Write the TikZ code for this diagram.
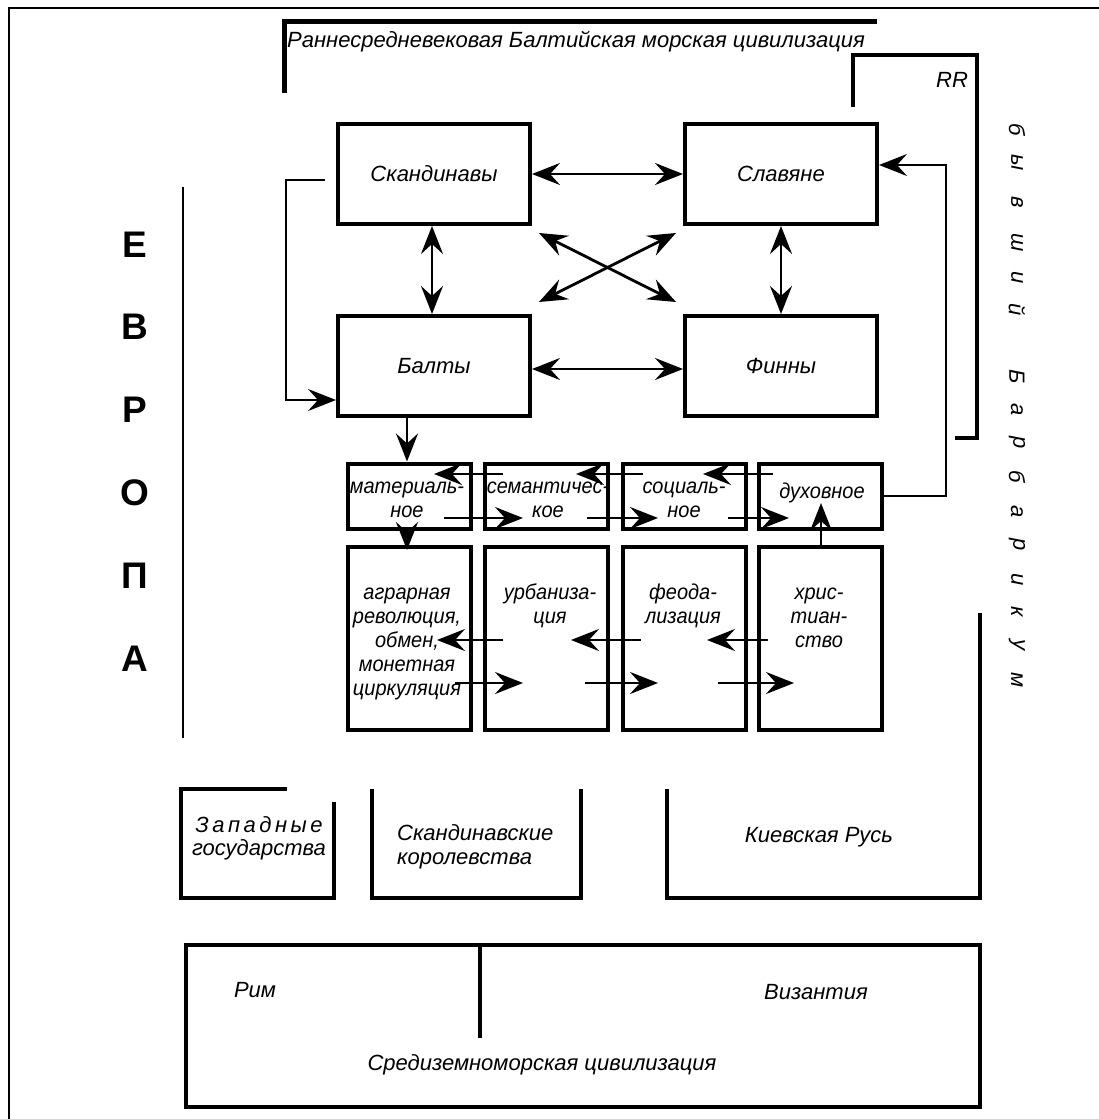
\documentclass[tikz,border=0pt]{standalone}
\usepackage{fontspec}
\setmainfont{Liberation Sans}
\newfontfamily\narrowsans[FakeStretch=0.93]{Liberation Sans}
\usetikzlibrary{arrows.meta,calc}
\begin{document}
\begin{tikzpicture}[x=1pt,y=-1pt,
  lab/.style={font=\fontsize{22}{24}\selectfont\itshape,inner sep=0pt,align=center},
  nlab/.style={font=\narrowsans\fontsize{21.5}{24}\selectfont\itshape,inner sep=0pt,align=center},
  bigbox/.style={draw,line width=4pt,minimum width=192pt,minimum height=100pt,inner sep=0pt,lab},
  smallbox/.style={draw,line width=4pt,minimum width=123pt,minimum height=65pt,inner sep=0pt},
  tallbox/.style={draw,line width=4pt,minimum width=123pt,minimum height=183pt,inner sep=0pt},
  thick4/.style={line width=4pt},
  tip/.tip={Stealth[length=28pt,width=22pt,inset=10pt]},
  arr/.style={line width=2.8pt,-tip},
  thinarr/.style={line width=2pt,-tip},
  darr/.style={line width=2.8pt,tip-tip},
  big/.style={font=\fontsize{37}{37}\selectfont\bfseries,inner sep=0pt}]
\useasboundingbox (0,0) rectangle (1099,1119);
% outer frame
\draw[line width=2pt] (9,1119) -- (9,8) -- (1099,8);
% top bracket
\draw[line width=5pt] (284,93) -- (284,21) -- (877,21);
\node[lab,anchor=west] (title) at (287,42) {Раннесредневековая Балтийская морская цивилизация};
% RR bracket
\draw[thick4] (853,107) -- (853,55) -- (977,55) -- (977,438) -- (955,438);
\node[lab] (rr) at (952,80) {RR};
% vertical text right
\foreach \l/\yy [count=\i] in {б/130,ы/163,в/202,ш/243,и/278,й/310,Б/377,а/410,р/443,б/477,а/512,р/545,и/580,к/612,у/645,м/680}
  \node[lab,rotate=-90] (v\i) at (1017,\yy) {\l};
% EUROPA
\foreach \l/\yy [count=\i] in {Е/245,В/327,Р/410,О/493,П/576,А/659}
  \node[big] (e\i) at (135,\yy) {\l};
\draw[line width=2.5pt] (183,187) -- (183,738);
% upper boxes
\node[bigbox] (sk) at (434,174) {Скандинавы};
\node[bigbox] (sl) at (781,174) {Славяне};
\node[bigbox] (ba) at (434,366) {Балты};
\node[bigbox] (fi) at (781,366) {Финны};
\draw[darr] (sk) -- (sl);
\draw[darr] ([yshift=-3pt]ba.east) -- ([yshift=-3pt]fi.west);
\draw[darr] ([xshift=-2pt]sk.south) -- ([xshift=-2pt]ba.north);
\draw[darr] (sl.south) -- (fi.north);
\draw[darr] ([shift={(7pt,-7pt)}]sk.south east) -- ([shift={(-7pt,12pt)}]fi.north west);
\draw[darr] ([shift={(-7pt,-7pt)}]sl.south west) -- ([shift={(7pt,12pt)}]ba.north east);
\draw[thinarr] ([shift={(-11pt,-6pt)}]sk.west) -- ++(-39pt,0pt) |- ([yshift=-34pt]ba.west);
% small boxes
\node[smallbox] (m) at (409,496) {};
\node[smallbox] (s) at (546,496) {};
\node[smallbox] (so) at (684,496) {};
\node[smallbox] (d) at (820,496) {};
\node[nlab] (mt) at (407,500) {материаль-\\ное};
\node[nlab] (st) at (548,500) {семантичес-\\кое};
\node[nlab] (sot) at (684,500) {социаль-\\ное};
\node[nlab] (dt) at (822,493) {духовное};
% tall boxes
\node[tallbox] (tm) at (409,638.5) {};
\node[tallbox] (tu) at (546,638.5) {};
\node[tallbox] (tf) at (684,638.5) {};
\node[tallbox] (tx) at (820,638.5) {};
\node[nlab,anchor=north] (tmt) at (407,582) {\strut аграрная\\революция,\\обмен,\\монетная\\циркуляция};
\node[nlab,anchor=north] (tut) at (550,582) {\strut урбаниза-\\ция};
\node[nlab,anchor=north] (tft) at (683,582) {\strut феода-\\лизация};
\node[nlab,anchor=north] (txt) at (819,582) {\strut хрис-\\тиан-\\ство};
\draw[arr] ([xshift=-27pt]ba.south) -- ([xshift=-2pt]m.north);
\draw[arr] ([xshift=-2pt]m.south) -- ([xshift=-2pt,yshift=-5pt]tm.north);
\draw[arr] ([xshift=1pt]tx.north) -- ([xshift=1pt,yshift=-7pt]d.center);
\draw[thinarr] (d.east) -- ++(62pt,0pt) |- ([yshift=9pt]sl.east);
\foreach \a/\b/\y [count=\i] in {503/434/474,643/576/474,773/703/474,444/523/518,587/658/518,728/789/518,503/437/640,641/571/640,768/707/640,455/523/683,585/658/683,718/794/683}{
  \coordinate (pa\i) at (\a,\y);
  \coordinate (pb\i) at (\b,\y);
  \draw[arr] (pa\i) -- (pb\i);
}
% bottom states
\draw[thick4] (287,789) -- (181,789) -- (181,898) -- (334,898) -- (334,802);
\node[lab] (zap) at (259,825) {З\kern3.5pt а\kern3.5pt п\kern3.5pt а\kern3.5pt д\kern3.5pt н\kern3.5pt ы\kern3.5pt е};
\node[lab] (zap2) at (259,850) {государства};
\draw[thick4] (372,789) -- (372,898) -- (581,898) -- (581,789);
\node[lab,anchor=west,align=left] (skk) at (397,847) {Скандинавские\\королевства};
\draw[thick4] (980,613) -- (980,898) -- (667,898) -- (667,789);
\node[lab] (kr) at (819,837) {Киевская Русь};
% Mediterranean
\draw[thick4] (186,945) rectangle (980,1107);
\draw[thick4] (480,945) -- (480,1038);
\node[lab] (rim) at (255,990) {Рим};
\node[lab] (viz) at (816,992) {Византия};
\node[lab] (med) at (542,1065) {Средиземноморская цивилизация};
\end{tikzpicture}
\end{document}
